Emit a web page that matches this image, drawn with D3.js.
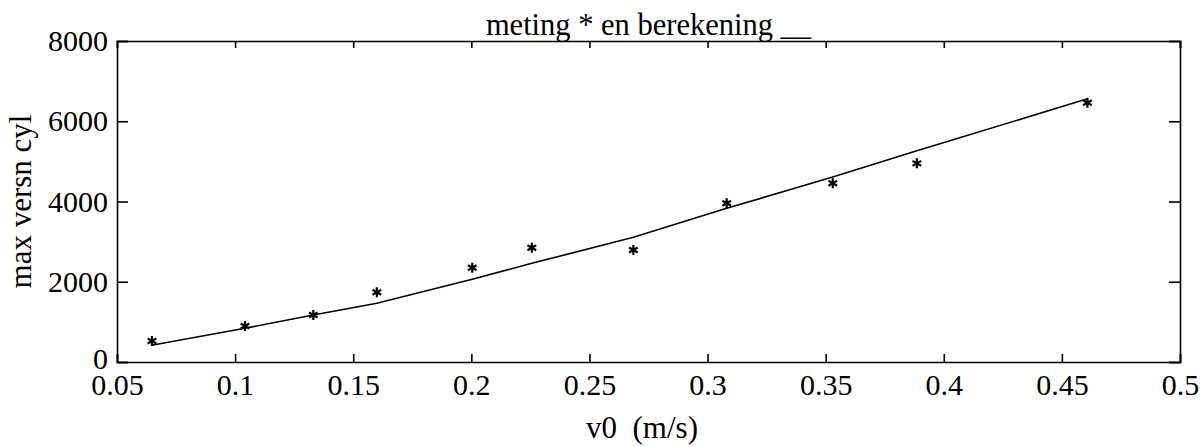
<!DOCTYPE html>
<html>
<head>
<meta charset="utf-8">
<script src="https://cdn.jsdelivr.net/npm/d3@7"></script>
<style>
  body { margin: 0; background: #fff; }
  svg { display: block; font-family: "Liberation Serif", "DejaVu Serif", serif; }
</style>
</head>
<body>
<svg id="chart"></svg>
<script>
const width = 1201;
const height = 447;

// measured points (meting *)
const measV0 = [0.0648, 0.1042, 0.1331, 0.160, 0.2004, 0.2256, 0.2686, 0.3081, 0.3530, 0.3886, 0.4608];
const measMax = [523, 897, 1171, 1737, 2350, 2849, 2791, 3955, 4453, 4951, 6462];

// computed line (berekening)
const calcV0 = [0.0652, 0.1042, 0.1331, 0.160, 0.2004, 0.2256, 0.2686, 0.3081, 0.3530, 0.3886, 0.4605];
const calcMax = [424, 840, 1171, 1463, 2060, 2459, 3107, 3830, 4610, 5263, 6554];

const xTicks = [0.05, 0.1, 0.15, 0.2, 0.25, 0.3, 0.35, 0.4, 0.45, 0.5];
const yTicks = [0, 2000, 4000, 6000, 8000];

const margin = {left: 117, right: 21, top: 41, bottom: 85};
const fontSize = 30;

const svg = d3.select("#chart").attr("width", width).attr("height", height);

const x = d3.scaleLinear().domain([0.05, 0.5]).range([margin.left, width - margin.right]);
const y = d3.scaleLinear().domain([0, 8000]).range([height - margin.bottom, margin.top]);

const fmtX = d => String(+d.toFixed(2));

// axes with inward ticks on all four sides
svg.append("g")
  .attr("transform", `translate(0,${y(0)})`)
  .call(d3.axisBottom(x).tickValues(xTicks).tickSize(-8).tickPadding(12).tickFormat(fmtX))
  .call(g => g.selectAll("text").attr("font-size", fontSize).attr("fill", "#000"));

svg.append("g")
  .attr("transform", `translate(0,${y(8000)})`)
  .call(d3.axisTop(x).tickValues(xTicks).tickSize(-7).tickFormat(""));

svg.append("g")
  .attr("transform", `translate(${x(0.05)},0)`)
  .call(d3.axisLeft(y).tickValues(yTicks).tickSize(-11).tickPadding(9).tickFormat(d3.format("d")))
  .call(g => g.selectAll("text").attr("font-size", fontSize).attr("fill", "#000")
    .attr("dy", d => d === 0 ? "0.22em" : "0.32em"));

svg.append("g")
  .attr("transform", `translate(${x(0.5)},0)`)
  .call(d3.axisRight(y).tickValues(yTicks).tickSize(-11).tickFormat(""));

svg.selectAll(".domain, .tick line").attr("stroke", "#000").attr("stroke-width", 1.6);
svg.selectAll("text").attr("font-family", "Liberation Serif, serif");

// calc line
const line = d3.line().x(d => x(d[0])).y(d => y(d[1]));
svg.append("path")
  .datum(calcV0.map((v, i) => [v, calcMax[i]]))
  .attr("d", line)
  .attr("fill", "none")
  .attr("stroke", "#000")
  .attr("stroke-width", 1.6);

// star markers
const star = r => {
  const p = d3.path();
  for (let k = 0; k < 3; k++) {
    const a = Math.PI / 2 + k * Math.PI / 3;
    p.moveTo(r * Math.cos(a), r * Math.sin(a));
    p.lineTo(-r * Math.cos(a), -r * Math.sin(a));
  }
  return p.toString();
};
svg.append("g").selectAll("path")
  .data(measV0.map((v, i) => [v, measMax[i]]))
  .join("path")
  .attr("transform", d => `translate(${x(d[0])},${y(d[1])})`)
  .attr("d", star(5))
  .attr("stroke", "#000")
  .attr("stroke-width", 2.2)
  .attr("fill", "none");

// title and labels
svg.append("text")
  .attr("x", (x(0.05) + x(0.5)) / 2)
  .attr("y", 35)
  .attr("text-anchor", "middle")
  .attr("font-size", 30.5)
  .text("meting * en berekening __");

svg.append("text")
  .attr("x", 642)
  .attr("y", 438)
  .attr("text-anchor", "middle")
  .attr("font-size", 31)
  .style("white-space", "pre")
  .text("v0  (m/s)");

svg.append("text")
  .attr("transform", `translate(31,${(y(0) + y(8000)) / 2}) rotate(-90)`)
  .attr("text-anchor", "middle")
  .attr("font-size", 31)
  .text("max versn cyl");
</script>
</body>
</html>
